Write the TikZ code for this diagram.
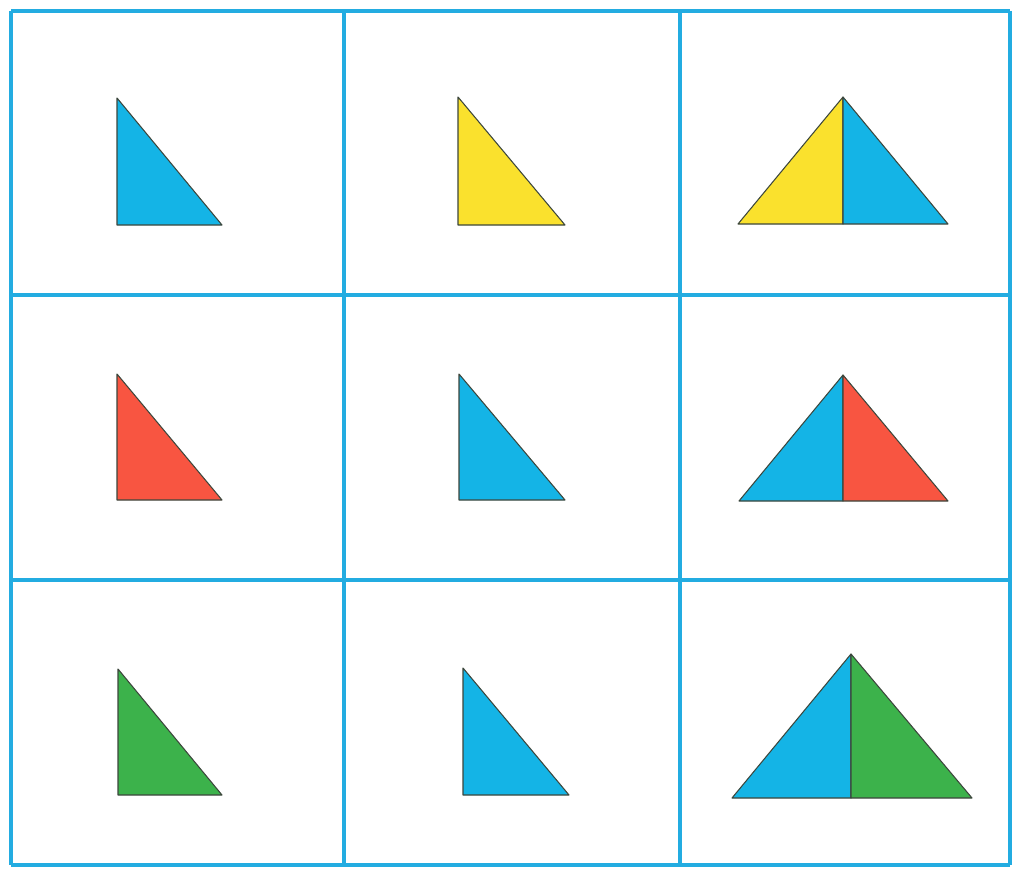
\documentclass[tikz,border=0pt]{standalone}
\usepackage{xcolor}
\usepackage{tikz}
\definecolor{gridblue}{RGB}{35,172,225}
\definecolor{piecblue}{RGB}{20,180,230}
\definecolor{piecyellow}{RGB}{250,225,45}
\definecolor{piecred}{RGB}{248,85,65}
\definecolor{piecgreen}{RGB}{60,178,75}
\definecolor{edgegray}{RGB}{60,70,60}

\begin{document}
\begin{tikzpicture}[
  x=0.02cm, y=-0.02cm,
  gridline/.style={draw=gridblue, line width=2.2pt},
  piece/.style={draw=edgegray, line width=0.6pt, line join=round}
]
  \useasboundingbox (0,0) rectangle (1013,868);
  \fill[white] (0,0) rectangle (1013,868);

  % row 1
  \filldraw[piece, fill=piecblue]   (117,98) -- (117,225) -- (222,225) -- cycle;
  \filldraw[piece, fill=piecyellow] (458,97) -- (458,225) -- (565,225) -- cycle;
  \filldraw[piece, fill=piecyellow] (843,97) -- (738,224) -- (843,224) -- cycle;
  \filldraw[piece, fill=piecblue]   (843,97) -- (843,224) -- (948,224) -- cycle;

  % row 2
  \filldraw[piece, fill=piecred]    (117,374) -- (117,500) -- (222,500) -- cycle;
  \filldraw[piece, fill=piecblue]   (459,374) -- (459,500) -- (565,500) -- cycle;
  \filldraw[piece, fill=piecblue]   (843,375) -- (739,501) -- (843,501) -- cycle;
  \filldraw[piece, fill=piecred]    (843,375) -- (843,501) -- (948,501) -- cycle;

  % row 3
  \filldraw[piece, fill=piecgreen]  (118,669) -- (118,795) -- (222,795) -- cycle;
  \filldraw[piece, fill=piecblue]   (463,668) -- (463,795) -- (569,795) -- cycle;
  \filldraw[piece, fill=piecblue]   (851,654) -- (732,798) -- (851,798) -- cycle;
  \filldraw[piece, fill=piecgreen]  (851,654) -- (851,798) -- (972,798) -- cycle;

  % grid
  \foreach \gx in {11,344,680,1010}
    \draw[gridline] (\gx,11) -- (\gx,865);
  \foreach \gy in {11,295,580,865}
    \draw[gridline] (11,\gy) -- (1010,\gy);
\end{tikzpicture}
\end{document}
